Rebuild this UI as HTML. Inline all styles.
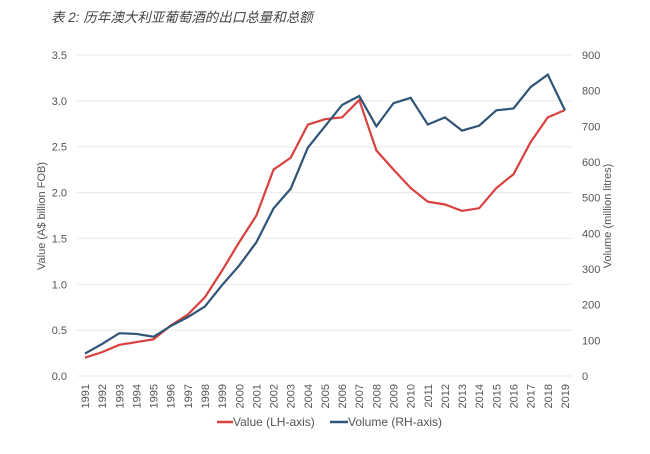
<!DOCTYPE html>
<html><head><meta charset="utf-8"><style>
body{margin:0;background:#fff;width:650px;height:449px;overflow:hidden}
text{font-family:"Liberation Sans","Noto Sans CJK SC",sans-serif;fill:#555}
</style></head><body>
<svg id="s" width="650" height="449" xmlns="http://www.w3.org/2000/svg">
<text x="51" y="22" font-size="13.5" font-style="italic" style="fill:#444">表 2: 历年澳大利亚葡萄酒的出口总量和总额</text>
<g id="grid"></g>
<text transform="translate(45,216) rotate(-90)" font-size="11" text-anchor="middle">Value (A$ billion FOB)</text>
<text transform="translate(611,216) rotate(-90)" font-size="11" text-anchor="middle">Volume (million litres)</text>
<line x1="217" y1="422" x2="233" y2="422" stroke="#d9413e" stroke-width="2.5"/>
<text x="233" y="426" font-size="12">Value (LH-axis)</text>
<line x1="330" y1="422" x2="348" y2="422" stroke="#2e5477" stroke-width="2.5"/>
<text x="348" y="426" font-size="12">Volume (RH-axis)</text>
</svg>
<script>
var s=document.getElementById('grid'),ns='http://www.w3.org/2000/svg';
function el(t,a,txt){var e=document.createElementNS(ns,t);for(var k in a)e.setAttribute(k,a[k]);if(txt!=null)e.textContent=txt;s.appendChild(e);return e;}
var y0=376,yt=55,x0=85,dx=17.14;
for(var i=0;i<=7;i++){var y=y0-(y0-yt)*i/7;
el('line',{x1:77,x2:572,y1:y,y2:y,stroke:'#e8e8e8','stroke-width':1});
el('text',{x:67,y:y+4,'font-size':11,'text-anchor':'end'},(i*0.5).toFixed(1));}
for(var i=0;i<=9;i++){var y=y0-(y0-yt)*i/9;
el('text',{x:582,y:y+4,'font-size':11},String(i*100));}
for(var i=0;i<29;i++){var x=x0+i*dx;
el('text',{transform:'translate('+(x+4)+',384) rotate(-90)','font-size':11,'text-anchor':'end'},String(1991+i));}
var v=[0.2,0.26,0.34,0.37,0.40,0.55,0.67,0.86,1.15,1.46,1.75,2.25,2.38,2.74,2.80,2.82,3.01,2.46,2.25,2.05,1.90,1.87,1.80,1.83,2.05,2.20,2.55,2.82,2.90];
var w=[63,90,120,118,110,140,165,195,255,310,375,470,525,640,700,760,785,700,765,780,705,725,688,702,745,750,810,845,745];
var p1=v.map(function(a,i){return (x0+i*dx)+','+(y0-a*(y0-yt)/3.5)}).join(' ');
var p2=w.map(function(a,i){return (x0+i*dx)+','+(y0-a*(y0-yt)/900)}).join(' ');
el('polyline',{points:p1,fill:'none',stroke:'#d9413e','stroke-width':2.2});
el('polyline',{points:p2,fill:'none',stroke:'#2e5477','stroke-width':2.2});
</script>
</body></html>
